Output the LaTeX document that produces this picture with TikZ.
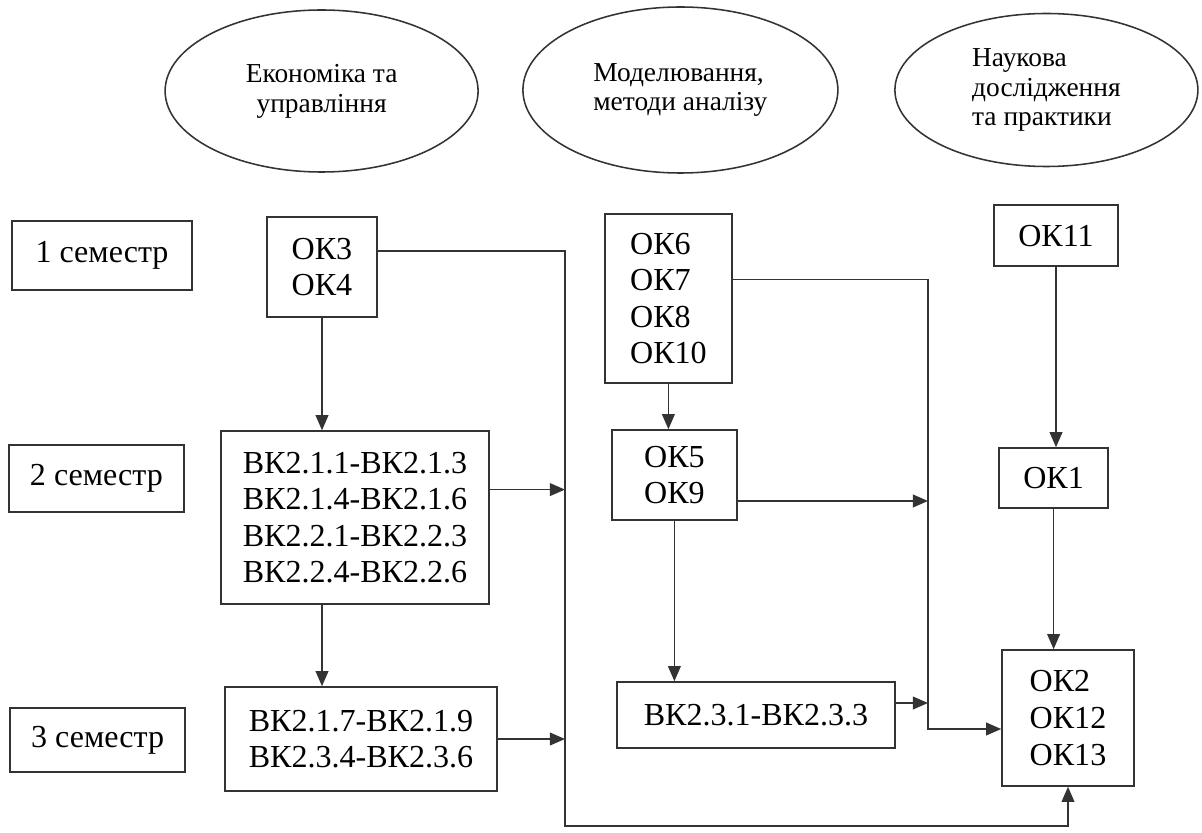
\documentclass[tikz,border=0pt]{standalone}
\usepackage{fontspec}
\setmainfont{Liberation Serif}
\usetikzlibrary{arrows.meta,positioning,shapes}

\begin{document}
\begin{tikzpicture}[
  box/.style={draw=black!80,line width=1.1pt,inner sep=0pt,align=left,font=\fontsize{22.8}{26}\selectfont},
  oval/.style={draw=black!80,line width=1.1pt,ellipse,inner sep=0pt,font=\fontsize{19.5}{21.2}\selectfont},
  ln/.style={draw=black!80,line width=1.1pt},
  arr/.style={ln,-{Triangle[length=0.38cm,width=0.32cm]}}]
  \useasboundingbox (0,0) rectangle (30.05,20.8);
  % directions
  \node[oval,minimum width=7.825cm,minimum height=4.05cm,align=center] (eco) at (8.04,18.525) {Економіка та\\управління};
  \node[oval,minimum width=7.875cm,minimum height=4.15cm,align=left] (mod) at (17.01,18.55) {Моделювання,\\методи аналізу};
  \node[oval,minimum width=7.575cm,minimum height=3.825cm,align=left] (sci) at (26.16,18.55) {Наукова\\дослідження\\та практики};
  % semesters
  \node[box,minimum width=4.5cm,minimum height=1.725cm] (sem1) at (2.55,14.41) {1 семестр};
  \node[box,minimum width=4.375cm,minimum height=1.675cm] (sem2) at (2.41,8.84) {2 семестр};
  \node[box,minimum width=4.375cm,minimum height=1.6cm] (sem3) at (2.44,2.3) {3 семестр};
  % components
  \node[box,minimum width=2.75cm,minimum height=2.5cm,align=center] (ok34) at (8.05,14.125) {ОК3\\ОК4};
  \node[box,minimum width=3.175cm,minimum height=4.225cm] (ok6) at (16.71,13.34) {ОК6\\ОК7\\ОК8\\ОК10};
  \node[box,minimum width=3.1cm,minimum height=1.525cm] (ok11) at (26.4,14.91) {ОК11};
  \node[box,minimum width=6.7cm,minimum height=4.325cm] (bk21) at (8.875,7.86) {ВК2.1.1-ВК2.1.3\\ВК2.1.4-ВК2.1.6\\ВК2.2.1-ВК2.2.3\\ВК2.2.4-ВК2.2.6};
  \node[box,minimum width=3.125cm,minimum height=2.25cm] (ok59) at (16.86,8.925) {ОК5\\ОК9};
  \node[box,minimum width=2.725cm,minimum height=1.5cm] (ok1) at (26.34,8.85) {ОК1};
  \node[box,minimum width=6.8cm,minimum height=2.6cm] (bk217) at (9.025,2.325) {ВК2.1.7-ВК2.1.9\\ВК2.3.4-ВК2.3.6};
  \node[box,minimum width=6.95cm,minimum height=1.65cm] (bk231) at (18.9,2.925) {ВК2.3.1-ВК2.3.3};
  \node[box,minimum width=3.3cm,minimum height=3.4cm] (ok2) at (26.7,2.85) {ОК2\\ОК12\\ОК13};
  % buses
  \coordinate (bl) at (14.125,0.15);
  \coordinate (br) at (23.2,8);
  \draw[arr] ([yshift=0.4cm]ok34.east) -| (bl) -| (ok2.south);
  \draw[arr] ([yshift=0.47cm]ok6.east) -| (br) |- ([yshift=-0.275cm]ok2.west);
  \draw[arr] (ok34.south) -- (ok34.south |- bk21.north);
  \draw[arr] (ok34.south |- bk21.south) -- (ok34.south |- bk217.north);
  \draw[arr] ([yshift=0.7cm]bk21.east) -- ([yshift=0.7cm]bk21.east -| bl);
  \draw[arr] (bk217.east) -- (bk217.east -| bl);
  \draw[arr] (ok6.south) -- (ok6.south |- ok59.north);
  \draw[arr] (ok59.south) -- (ok59.south |- bk231.north);
  \draw[arr] ([yshift=-0.65cm]ok59.east) -- ([yshift=-0.65cm]ok59.east -| br);
  \draw[arr] ([yshift=0.3cm]bk231.east) -- ([yshift=0.3cm]bk231.east -| br);
  \draw[arr] (ok11.south) -- (ok11.south |- ok1.north);
  \draw[arr] (ok1.south) -- (ok1.south |- ok2.north);
\end{tikzpicture}
\end{document}
